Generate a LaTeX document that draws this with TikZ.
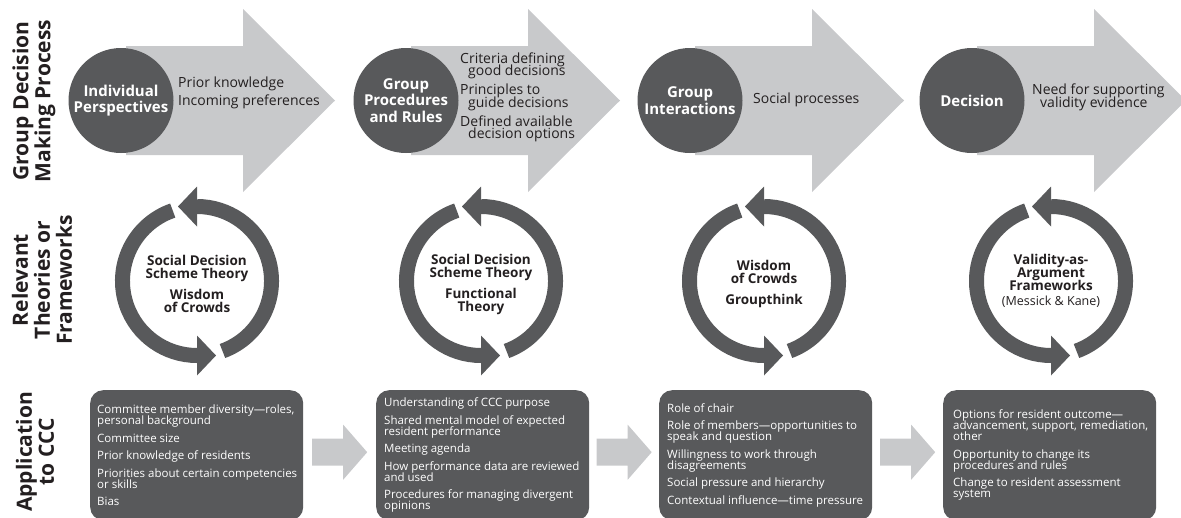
\documentclass[tikz,border=0pt]{standalone}
\usepackage{fontspec}
\setmainfont{Open Sans}
\usetikzlibrary{calc}
\definecolor{dk}{HTML}{58595B}
\definecolor{lt}{HTML}{C8C9CB}
\definecolor{tx}{HTML}{231F20}
\newcommand{\tight}{\lineskiplimit=-30pt\lineskip=0pt}
\newcommand{\indnt}{\makebox[8pt]{}}
\tikzset{
  circ/.style={circle, fill=dk, minimum size=105, inner sep=0, text=white, font=\bfseries\fontsize{15}{16.5}\selectfont\tight, align=center},
  atext/.style={anchor=west, text=tx, align=left, inner sep=0},
  rlabel/.style={rotate=90, text=tx, align=center, font=\bfseries\fontsize{21}{22}\selectfont\tight, inner sep=0},
  rtext/.style={text=tx, align=center, font=\bfseries\fontsize{13.5}{13}\selectfont\tight, inner sep=0},
  cbox/.style={rounded corners=13, fill=dk, minimum width=213, minimum height=130, anchor=north west, inner sep=0},
  btext/.style={anchor=west, text=white, align=left, inner sep=0, font=\fontsize{11.5}{11}\selectfont\tight},
  ring/.style={draw=dk, line width=15},
  bigarrow/.style={fill=lt},
}
\begin{document}
\begin{tikzpicture}[x=1pt,y=-1pt]
\useasboundingbox (0,0) rectangle (1181,517);
\clip (0,0) rectangle (1181,517);

% top row big arrows
\foreach \c in {121,406,690,972} {
  \fill[bigarrow] (\c+5,46) -- (\c+122,46) -- (\c+122,9) -- (\c+214,100.5) -- (\c+122,192) -- (\c+122,155) -- (\c+5,155) -- cycle;
}
\node[circ] (p1) at (121,100.5) {Individual\\Perspectives};
\node[circ] (p2) at (406,100.5) {Group\\Procedures\\and Rules};
\node[circ] (p3) at (690,100.5) {Group\\Interactions};
\node[circ] (p4) at (972,100.5) {Decision};

\node[atext, font=\fontsize{14}{18}\selectfont\tight] (t1) at (178,93) {Prior knowledge\\Incoming preferences};
\node[atext, font=\fontsize{14}{12.5}\selectfont\tight] (t2) at (460,97.5) {Criteria defining\\\indnt good decisions\\[6.5pt]Principles to\\\indnt guide decisions\\[6.5pt]Defined available\\\indnt decision options};
\node[atext, font=\fontsize{14}{14}\selectfont\tight] (t3) at (753,100) {Social processes};
\node[atext, font=\fontsize{14}{13}\selectfont\tight] (t4) at (1032,97.5) {Need for supporting\\\indnt validity evidence};

% rings
\foreach \cx in {197,481,764,1051} {
  \begin{scope}[shift={(\cx,281)}, yscale=-1]
    \draw[ring] (-70:74.5) arc (-70:90:74.5);
    \fill[dk] (0,54.5) -- (0,94.5) -- (-19,74.5) -- cycle;
    \draw[ring] (109:74.5) arc (109:270:74.5);
    \fill[dk] (0,-54.5) -- (0,-94.5) -- (19,-74.5) -- cycle;
  \end{scope}
}
\node[rtext] (r1) at (197,284) {Social Decision\\Scheme Theory\\[8pt]Wisdom\\of Crowds};
\node[rtext] (r2) at (481,284) {Social Decision\\Scheme Theory\\[8pt]Functional\\Theory};
\node[rtext] (r3) at (764,284) {Wisdom\\of Crowds\\[8pt]Groupthink};
\node[rtext] (r4) at (1051,281) {Validity-as-\\Argument\\Frameworks\\[1.5pt]{\mdseries\fontsize{12.5}{13}\selectfont(Messick \& Kane)}};

% row labels
\node[rlabel] (L1) at (34,101) {Group Decision\\Making Process};
\node[rlabel] (L2) at (42,280) {Relevant\\Theories or\\Frameworks};
\node[rlabel] (L3) at (35,452) {Application\\to CCC};

% bottom boxes
\node[cbox] (b1) at (90,390) {};
\node[cbox] (b2) at (376,390) {};
\node[cbox] (b3) at (659,390) {};
\node[cbox] (b4) at (943,390) {};

\node[btext] (bt1) at ([xshift=7]b1.west) {Committee member diversity—roles,\\personal background\\[6.5pt]Committee size\\[6.5pt]Prior knowledge of residents\\[6.5pt]Priorities about certain competencies\\or skills\\[6.5pt]Bias};
\node[btext] (bt2) at ([xshift=8]b2.west) {Understanding of CCC purpose\\[6.5pt]Shared mental model of expected\\resident performance\\[6.5pt]Meeting agenda\\[6.5pt]How performance data are reviewed\\and used\\[6.5pt]Procedures for managing divergent\\opinions};
\node[btext] (bt3) at ([xshift=8]b3.west) {Role of chair\\[6.5pt]Role of members—opportunities to\\speak and question\\[6.5pt]Willingness to work through\\disagreements\\[6.5pt]Social pressure and hierarchy\\[6.5pt]Contextual influence—time pressure};
\node[btext] (bt4) at ([xshift=10]b4.west) {Options for resident outcome—\\advancement, support, remediation,\\other\\[6.5pt]Opportunity to change its\\procedures and rules\\[6.5pt]Change to resident assessment\\system};

% block arrows between boxes
\foreach \a/\b in {b1/b2,b2/b3,b3/b4} {
  \coordinate (m) at ($(\a.east)!0.5!(\b.west)+(0,-3)$);
  \begin{scope}[shift={(m)}]
    \fill[bigarrow] (-27.5,-13.5) -- (3.5,-13.5) -- (3.5,-27.5) -- (27.5,0) -- (3.5,27.5) -- (3.5,13.5) -- (-27.5,13.5) -- cycle;
  \end{scope}
}
\end{tikzpicture}
\end{document}
